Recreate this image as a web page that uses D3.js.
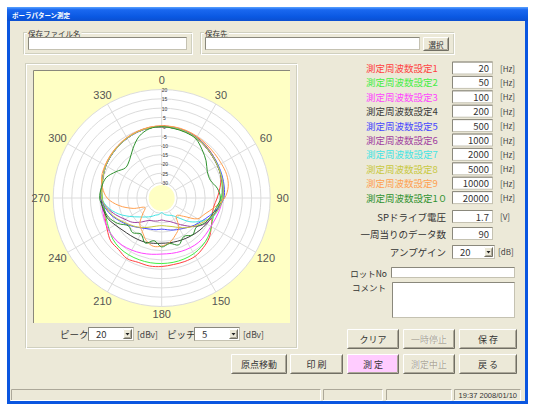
<!DOCTYPE html>
<html>
<head>
<meta charset="utf-8">
<script src="https://cdn.jsdelivr.net/npm/d3@7"></script>
<style>
body { margin: 0; background: #fff; }
svg { display: block; font-family: "Noto Sans CJK JP", sans-serif; }
</style>
</head>
<body>
<svg id="win" width="536" height="404"></svg>
<script>
// 測定角度 (10度刻み)
var angles = [0, 10, 20, 30, 40, 50, 60, 70, 80, 90, 100, 110, 120, 130, 140, 150, 160, 170,
              180, 190, 200, 210, 220, 230, 240, 250, 260, 270, 280, 290, 300, 310, 320, 330, 340, 350];

// 周波数ごとの音圧レベル [dB]
var lv20 = [0.4, 0.3, 0, -0.6, -1.5, -2.5, -3.4, -4.5, -6.5, -8.5, -10, -9.5, -7.5, -5, -3.5, -2.2, -2, -2,
            -1.5, -1.2, -1.5, -0.8, -2.2, -2.5, -4.5, -6, -7, -6.2, -5.8, -4.8, -3.4, -2.6, -1.8, -1, -0.3, 0.2];
var lv50 = [0.2, 0, -0.4, -1, -1.9, -2.8, -3.6, -4.4, -5.3, -6.3, -7.8, -8.8, -7.5, -5.8, -4.6, -3.8, -3.4, -3.2,
            -3.1, -3, -3, -3, -3.2, -4, -5.5, -6.6, -7, -6.4, -5.6, -4.7, -3.6, -2.7, -1.9, -1.1, -0.5, 0];
var lv100 = [0, -0.1, -0.5, -1.1, -2, -2.9, -3.6, -4.2, -4.8, -5.5, -6.4, -7.3, -7.8, -7.6, -7.3, -7.5, -7.8, -8.1,
             -8.2, -7.6, -6.8, -6, -5.2, -4.8, -5, -5.5, -5.9, -5.7, -5.5, -4.8, -3.6, -2.8, -2, -1.2, -0.5, -0.1];
var lv200 = [0, -0.2, -0.5, -1.1, -2.1, -3, -3.7, -4.3, -4.9, -5.6, -7.5, -9.3, -10.5, -11.5, -12.4, -13.1, -13.6, -13.9,
             -14, -13.6, -13, -12.6, -12.1, -11.2, -9.4, -7.2, -6.2, -5.7, -5.5, -4.7, -3.6, -2.8, -2, -1.2, -0.5, -0.1];
var lv500 = [0, -0.1, -0.4, -0.9, -1.8, -2.6, -3.2, -3.7, -4.2, -4.9, -7.5, -10.8, -13.5, -15.5, -17.5, -19, -20, -21,
             -21.6, -21, -20.5, -19.5, -17.8, -15.5, -13, -10, -7.5, -5.8, -5.5, -4.7, -3.7, -2.9, -2.1, -1.3, -0.6, -0.1];
var lv1000 = [0, -0.2, -0.5, -1.1, -2, -2.9, -3.6, -4.2, -4.8, -5.5, -7.2, -9.2, -11, -14.5, -19, -22.5, -24.8, -25.8,
              -26.5, -25.8, -25.2, -24.4, -21.5, -18, -15.5, -12, -8.5, -6, -5.6, -4.8, -3.6, -2.8, -2, -1.2, -0.5, -0.1];
var lv2000 = [0.1, -0.1, -0.4, -1, -1.9, -2.8, -3.5, -4.1, -4.7, -5.5, -7, -9, -13.5, -18.5, -24.5, -27.5, -28.5, -29.3,
              -30.5, -29.3, -28.5, -26.8, -25, -22.5, -18.5, -13.5, -9, -6, -5.6, -4.8, -3.6, -2.8, -2, -1.2, -0.5, 0];
var lv5000 = [0, -0.2, -0.5, -1.1, -2, -2.9, -3.6, -4.2, -4.8, -5.5, -7, -9.5, -12.5, -15, -17.5, -20, -22, -23,
              -23.5, -23, -21.8, -20, -18, -16, -13.5, -10.5, -8, -6, -5.6, -4.8, -3.6, -2.8, -2, -1.2, -0.5, -0.1];
var lv10000 = [0.5, 0.5, 0.3, -0.2, -0.8, -1.2, -1.3, -1.2, -2, -4.5, -9.5, -13.5, -16, -23, -26, -20, -17, -14,
               -12.5, -12, -14, -17.5, -20, -25, -28, -22, -15, -9, -6, -4, -3.2, -2.4, -1.6, -0.8, -0.2, 0.3];
var lv20000 = [0, -0.4, -0.8, -1.6, -4.5, -7.2, -10, -10.5, -8, -6.8, -8.5, -10, -11.5, -14, -12.5, -14.5, -11.5, -13.5,
               -12, -15, -12.5, -16, -14, -15, -11, -8, -6.5, -5, -5.5, -6.5, -10, -13, -11.5, -7.5, -3, -0.5];

var freqLabels = ['測定周波数設定1', '測定周波数設定2', '測定周波数設定3', '測定周波数設定4', '測定周波数設定5',
                  '測定周波数設定6', '測定周波数設定7', '測定周波数設定8', '測定周波数設定9', '測定周波数設定1０'];
var freqValues = ['20', '50', '100', '200', '500', '1000', '2000', '5000', '10000', '20000'];
var dbTicks = [20, 15, 10, 5, 0, -5, -10, -15, -20, -25, -30];
var angleTicks = [0, 30, 60, 90, 120, 150, 180, 210, 240, 270, 300, 330];

var levels = [lv20, lv50, lv100, lv200, lv500, lv1000, lv2000, lv5000, lv10000, lv20000];
var colors = ['#ff4040', '#44ee44', '#ff44ff', '#3a3a3a', '#4646ff', '#a040a0', '#44e4e4', '#c8c840', '#ffa050', '#2f922f'];

var svg = d3.select('#win');
var BG = '#ece9d8';

// 文字
var txt = function (x, y, s, size, color, anchor, family) {
    return svg.append('text').attr('x', x).attr('y', y).text(s)
        .attr('font-size', size).attr('fill', color || '#333')
        .attr('text-anchor', anchor || 'start')
        .attr('dominant-baseline', 'central')
        .attr('font-family', family || null);
};

// 白いテキストボックス
var edit = function (x, y, w, h, value, align) {
    svg.append('rect').attr('x', x + 0.5).attr('y', y + 0.5).attr('width', w - 1).attr('height', h - 1)
        .attr('fill', '#fff').attr('stroke', '#c5c2b2');
    svg.append('path').attr('d', 'M' + (x + 0.5) + ',' + (y + h - 0.5) + 'V' + (y + 0.5) + 'H' + (x + w - 0.5))
        .attr('fill', 'none').attr('stroke', '#8a887c');
    if (value !== undefined) {
        if (align === 'right') txt(x + w - 4, y + h / 2, value, 9.5, '#333', 'end');
        else txt(x + 8, y + h / 2, value, 9.5, '#333');
    }
};

// ボタン
var button = function (x, y, w, h, label, fill, disabled, size) {
    svg.append('rect').attr('x', x).attr('y', y).attr('width', w).attr('height', h).attr('fill', fill || BG);
    svg.append('path').attr('d', 'M' + (x + 0.5) + ',' + (y + h - 1) + 'V' + (y + 0.5) + 'H' + (x + w - 1))
        .attr('fill', 'none').attr('stroke', '#fff');
    svg.append('path').attr('d', 'M' + (x + 0.5) + ',' + (y + h - 0.5) + 'H' + (x + w - 0.5) + 'V' + (y + 0.5))
        .attr('fill', 'none').attr('stroke', '#716f64');
    svg.append('path').attr('d', 'M' + (x + 1.5) + ',' + (y + h - 1.5) + 'H' + (x + w - 1.5) + 'V' + (y + 1.5))
        .attr('fill', 'none').attr('stroke', '#aca899');
    if (!label) return;
    if (disabled) txt(x + w / 2 + 0.7, y + h / 2 + 0.7, label, size || 9, '#fff', 'middle');
    txt(x + w / 2, y + h / 2, label, size || 9, disabled ? '#aca899' : '#333', 'middle');
};

// コンボボックス
var combo = function (x, y, w, h, value) {
    edit(x, y, w, h);
    txt(x + 8, y + h / 2, value, 9.5, '#333');
    var bx = x + w - 11, by = y + 2, bw = 9, bh = h - 4;
    button(bx, by, bw, bh, '');
    svg.append('path').attr('d', 'M' + (bx + 2.5) + ',' + (by + bh / 2 - 1) + 'h4l-2,2.5z').attr('fill', '#222');
};

// グループ枠
var group = function (x, y, w, h, label) {
    svg.append('rect').attr('x', x + 0.5).attr('y', y + 0.5).attr('width', w).attr('height', h)
        .attr('fill', 'none').attr('stroke', '#d0d0bf');
    svg.append('rect').attr('x', x + 1.5).attr('y', y + 1.5).attr('width', w).attr('height', h)
        .attr('fill', 'none').attr('stroke', '#fff');
    if (label) {
        var t = txt(x + 5, y + 1, label, 7.5, '#333');
        var bb = t.node().getBBox();
        svg.append('rect').attr('x', bb.x - 1).attr('y', bb.y).attr('width', bb.width + 2)
            .attr('height', bb.height).attr('fill', BG);
        t.raise();
    }
};

// ウィンドウ
var defs = svg.append('defs');
var grad = defs.append('linearGradient').attr('id', 'tb').attr('x1', 0).attr('y1', 0).attr('x2', 0).attr('y2', 1);
grad.append('stop').attr('offset', 0).attr('stop-color', '#5aa2ff');
grad.append('stop').attr('offset', 0.2).attr('stop-color', '#1a68f0');
grad.append('stop').attr('offset', 0.7).attr('stop-color', '#0a58e2');
grad.append('stop').attr('offset', 1).attr('stop-color', '#0c4fd0');
svg.append('rect').attr('x', 7).attr('y', 7).attr('width', 521).attr('height', 397).attr('fill', '#0a56e0');
svg.append('rect').attr('x', 7).attr('y', 7).attr('width', 521).attr('height', 14).attr('fill', 'url(#tb)');
svg.append('rect').attr('x', 10).attr('y', 21).attr('width', 515).attr('height', 380).attr('fill', BG);
txt(12, 14.5, 'ポーラパターン測定', 6.5, '#fff').attr('font-weight', 'bold');

// 保存ファイル名 / 保存先
group(23, 32, 168, 21, '保存ファイル名');
edit(28, 37, 159, 13);
group(200, 32, 253, 21, '保存先');
edit(205, 37, 215, 13);
button(423, 37, 26, 14, '選択', null, false, 7.5);

// グラフ枠
group(25, 63, 271, 284);
svg.append('rect').attr('x', 33).attr('y', 70).attr('width', 257).attr('height', 253).attr('fill', '#ffffc4');
svg.append('path').attr('d', 'M33.5,323V70.5H290').attr('fill', 'none').attr('stroke', '#8a887c');

// 極座標グラフ
var cx = 161.7, cy = 198;
var r = d3.scaleLinear().domain([-30, 20]).range([15.5, 108.5]);
var plot = svg.append('g').attr('transform', 'translate(' + cx + ',' + cy + ')');

plot.append('circle').attr('r', r(20)).attr('fill', '#fff');
plot.selectAll('circle.grid')
    .data(dbTicks)
    .enter()
    .append('circle')
    .attr('class', 'grid')
    .attr('r', function (d) { return r(d); })
    .attr('fill', 'none')
    .attr('stroke', '#dcdcdc')
    .attr('stroke-width', 1);
plot.selectAll('line.spoke')
    .data(angleTicks)
    .enter()
    .append('line')
    .attr('class', 'spoke')
    .attr('x1', function (d) { return r(-30) * Math.sin(d * Math.PI / 180); })
    .attr('y1', function (d) { return -r(-30) * Math.cos(d * Math.PI / 180); })
    .attr('x2', function (d) { return r(20) * Math.sin(d * Math.PI / 180); })
    .attr('y2', function (d) { return -r(20) * Math.cos(d * Math.PI / 180); })
    .attr('stroke', '#dcdcdc');
plot.append('circle').attr('r', 13).attr('fill', '#ffffc4');

// dB目盛
plot.selectAll('text.db')
    .data(dbTicks)
    .enter()
    .append('text')
    .attr('class', 'db')
    .attr('x', 2.8)
    .attr('y', function (d) { return -r(d) + 0.5; })
    .attr('text-anchor', 'middle')
    .attr('dominant-baseline', 'central')
    .attr('font-family', 'Liberation Sans')
    .attr('font-size', 5)
    .attr('fill', '#333')
    .text(function (d) { return d; });

// 角度目盛
var labelR = function (d) {
    var a = d * Math.PI / 180;
    return (d === 0 ? 118.5 : 116) + 5 * Math.abs(Math.sin(a));
};
plot.selectAll('text.ang')
    .data(angleTicks)
    .enter()
    .append('text')
    .attr('class', 'ang')
    .attr('x', function (d) { return labelR(d) * Math.sin(d * Math.PI / 180); })
    .attr('y', function (d) { return -labelR(d) * Math.cos(d * Math.PI / 180); })
    .attr('text-anchor', 'middle')
    .attr('dominant-baseline', 'central')
    .attr('font-family', 'Liberation Sans')
    .attr('font-size', 11)
    .attr('fill', '#555')
    .text(function (d) { return d; });

// 指向特性の線
var line = d3.lineRadial()
    .angle(function (d) { return d[0] * Math.PI / 180; })
    .radius(function (d) { return r(d[1]); })
    .curve(d3.curveCatmullRomClosed);
plot.selectAll('path.trace')
    .data(levels)
    .enter()
    .append('path')
    .attr('class', 'trace')
    .attr('d', function (lv) { return line(angles.map(function (a, i) { return [a, lv[i]]; })); })
    .attr('fill', 'none')
    .attr('stroke', function (d, i) { return colors[i]; })
    .attr('stroke-width', 1);

// ピーク / ピッチ
txt(60, 333.5, 'ピーク', 9.5, '#333');
combo(88, 327, 46, 14, '20');
txt(137, 333.5, '[dBv]', 8.5, '#444');
txt(167, 333.5, 'ピッチ', 9.5, '#333');
combo(194, 327, 46, 14, '5');
txt(243, 333.5, '[dBv]', 8.5, '#444');

// 測定周波数設定
freqLabels.forEach(function (lab, i) {
    var y = 68 + 14.4 * i;
    txt(366, y, lab, 9.5, colors[i]);
    edit(452, y - 6.5, 41, 13, freqValues[i], 'right');
    txt(500, y, '[Hz]', 8, '#444');
});

txt(446, 216.5, 'SPドライブ電圧', 9.5, '#333', 'end');
edit(452, 210, 41, 13, '1.7', 'right');
txt(500, 216.5, '[V]', 8, '#444');
txt(446, 233.5, '一周当りのデータ数', 9.5, '#333', 'end');
edit(452, 227, 41, 13, '90', 'right');
txt(446, 251.5, 'アンプゲイン', 9.5, '#333', 'end');
combo(452, 245, 43, 14, '20');
txt(498, 251.5, '[dB]', 8, '#444');
txt(387, 272.5, 'ロットNo', 8.5, '#333', 'end');
edit(391, 267, 124, 11);
txt(386, 287, 'コメント', 8.5, '#333', 'end');
edit(392, 282, 123, 36);

// ボタン
button(347, 329, 52, 20, 'クリア');
button(403, 329, 52, 20, '一時停止', null, true);
button(459, 329, 58, 20, '保 存');
button(231, 354, 56, 20, '原点移動');
button(290, 354, 53, 20, '印 刷');
button(347, 354, 52, 20, '測 定', '#ffccff');
button(403, 354, 52, 20, '測定中止', null, true);
button(459, 354, 58, 20, '戻 る');

// ステータスバー
[[11, 310], [323, 60], [386, 66], [454, 67]].forEach(function (p) {
    svg.append('path').attr('d', 'M' + (p[0] + 0.5) + ',400V389.5H' + (p[0] + p[1]))
        .attr('fill', 'none').attr('stroke', '#aca899');
    svg.append('path').attr('d', 'M' + (p[0] + p[1] - 0.5) + ',389.5V400.5H' + p[0])
        .attr('fill', 'none').attr('stroke', '#fff');
});
txt(517, 395, '19:37  2008/01/10', 7.5, '#333', 'end', 'Liberation Sans');
</script>
</body>
</html>
